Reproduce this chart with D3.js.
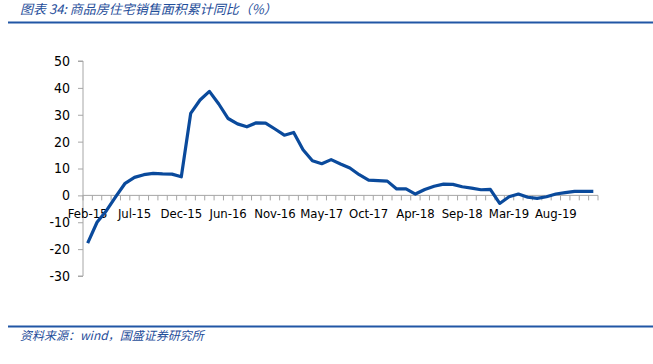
<!DOCTYPE html>
<html><head><meta charset="utf-8">
<script src="https://cdn.jsdelivr.net/npm/d3@7"></script>
<style>
body{margin:0;background:#fff;}
svg{display:block;font-family:"DejaVu Sans Condensed","DejaVu Sans",sans-serif;}
</style></head>
<body><svg id="c" width="653" height="364"></svg>
<script>
const months = (function(){const m=["Feb","Mar","Apr","May","Jun","Jul","Aug","Sep","Oct","Nov","Dec"];const out=[];for(const y of ["15","16","17","18","19"]){for(const mm of m)out.push(mm+"-"+y);}return out;})();
const values = [-17.8,-10.0,-5.7,-0.5,4.5,6.7,7.7,8.2,8.0,7.9,6.9,
  30.5,35.5,38.7,34.0,28.6,26.6,25.5,27.0,26.9,24.7,22.4,
  23.4,17.0,12.9,11.8,13.3,11.7,10.2,7.7,5.7,5.5,5.3,
  2.4,2.4,0.5,2.2,3.4,4.2,4.1,3.2,2.7,2.1,2.2,
  -3.0,-0.5,0.5,-0.7,-1.1,-0.5,0.5,1.0,1.5,1.5,1.5];
const yTicks = [-30,-20,-10,0,10,20,30,40,50];
const xLabels = ["Feb-15","Jul-15","Dec-15","Jun-16","Nov-16","May-17","Oct-17","Apr-18","Sep-18","Mar-19","Aug-19"];
const title = "图表 34:  商品房住宅销售面积累计同比（%）";
const source = "资料来源：wind，国盛证券研究所";

const svg = d3.select("#c");
const blue = "#0a4a9c";
const axisCol = "#a6a6a6";
const tickFont = "'DejaVu Sans Condensed','DejaVu Sans',sans-serif";

svg.append("text").attr("x",20).attr("y",14).attr("fill","#1f4e9a")
  .style("font-family","'Noto Sans CJK SC',sans-serif").style("font-style","italic").style("font-size","13px")
  .text(title);
svg.append("line").attr("x1",8).attr("x2",653).attr("y1",22.5).attr("y2",22.5).attr("stroke","#2156a5").attr("stroke-width",2);
svg.append("line").attr("x1",8).attr("x2",653).attr("y1",326.5).attr("y2",326.5).attr("stroke","#2156a5").attr("stroke-width",2);
svg.append("text").attr("x",20).attr("y",340).attr("fill","#1f4e9a")
  .style("font-family","'Noto Sans CJK SC',sans-serif").style("font-style","italic").style("font-size","12px")
  .text(source);

const x0 = 83, x1 = 598, yTop = 61, yBot = 276;
const y = d3.scaleLinear().domain([-30,50]).range([yBot,yTop]);
const xb = d3.scaleBand().domain(months).range([x0,x1]);
const xc = d => xb(d) + xb.bandwidth()/2;

// y axis
const ya = svg.append("g").attr("transform",`translate(${x0},0)`)
  .call(d3.axisLeft(y).tickValues(yTicks).tickSize(5).tickPadding(8).tickFormat(d => String(d)));
ya.select(".domain").attr("stroke",axisCol).attr("d",`M-5,${y(50)}H0V${y(-30)}H-5`);
ya.selectAll(".tick line").attr("stroke",axisCol);
ya.selectAll(".tick text").attr("fill","#000").style("font-size","14px").style("font-family",tickFont);

// x axis at zero
const xg = svg.append("g").attr("transform",`translate(0,${y(0)})`);
xg.append("line").attr("x1",x0).attr("x2",x1).attr("stroke",axisCol);
const bounds = months.map(m=>xb(m)).concat([xb(months[months.length-1])+xb.bandwidth()]);
xg.selectAll("line.t").data(bounds).join("line").attr("class","t")
  .attr("x1",d=>d).attr("x2",d=>d).attr("y1",0).attr("y2",5).attr("stroke",axisCol);
xg.selectAll("text").data(xLabels).join("text")
  .attr("x",d=>xc(d)).attr("y",23).attr("text-anchor","middle").attr("fill","#000")
  .style("font-size","13px").style("font-family",tickFont).text(d=>d);

const line = d3.line().x((d,i)=>xc(months[i])).y(d=>y(d));
svg.append("path").datum(values).attr("d",line).attr("fill","none")
  .attr("stroke",blue).attr("stroke-width",3.2).attr("stroke-linejoin","round");
</script></body></html>
